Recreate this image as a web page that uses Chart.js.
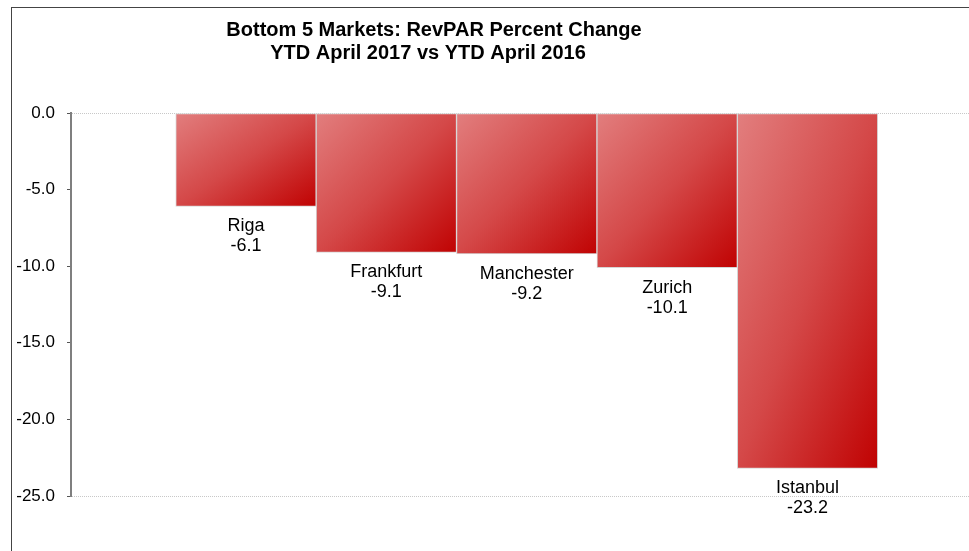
<!DOCTYPE html>
<html>
<head>
<meta charset="utf-8">
<script src="https://cdn.jsdelivr.net/npm/chart.js@4.4.1/dist/chart.umd.min.js"></script>
<style>
  html, body { margin:0; padding:0; background:#fff; overflow:hidden; }
  .frame { position:absolute; left:11px; top:7px; width:2000px; height:2000px; border:1px solid #444; }
  #wrap { position:absolute; left:0; top:0; width:969px; height:551px; }
</style>
</head>
<body>
<div class="frame"></div>
<div id="wrap"><canvas id="c" width="969" height="551"></canvas></div>
<script>
const TITLE = ["Bottom 5 Markets: RevPAR Percent Change", "YTD April 2017 vs YTD April 2016"];
const MARKETS = ["Riga", "Frankfurt", "Manchester", "Zurich", "Istanbul"];
const CHANGE = [-6.1, -9.1, -9.2, -10.1, -23.2];
const Y_MIN = -25, Y_MAX = 0, Y_STEP = 5;

const FONT = "'Liberation Sans', Arial, sans-serif";

// excel-ish diagonal gradient that scales with the bar shape
function barFill(ctx){
  const chart = ctx.chart;
  if(!chart.chartArea) return "#d24040";
  const xs = chart.scales.x, ys = chart.scales.y;
  const i = ctx.dataIndex;
  const half = (xs.getPixelForValue(1) - xs.getPixelForValue(0)) / 2;
  const cx = xs.getPixelForValue(i);
  const top = ys.getPixelForValue(0), bot = ys.getPixelForValue(CHANGE[i]);
  const x0 = cx - half, w = half * 2, h = bot - top;
  const t = 2 * w * h / (w * w + h * h);
  const g = chart.ctx.createLinearGradient(x0, top, x0 + t * h, top + t * w);
  g.addColorStop(0, "#e27e7e");
  g.addColorStop(0.5, "#d44848");
  g.addColorStop(1, "#c00202");
  return g;
}

const titlePlugin = {
  id: "ttl",
  afterDraw(chart){
    const c = chart.ctx;
    c.save();
    c.fillStyle = "#000";
    c.font = "bold 20px " + FONT;
    c.textAlign = "center";
    c.textBaseline = "middle";
    c.fillText(TITLE[0], 434, 30);
    c.fillText(TITLE[1], 428, 53);
    c.restore();
  }
};

const barLabels = {
  id: "barLabels",
  afterDatasetsDraw(chart){
    const c = chart.ctx;
    const meta = chart.getDatasetMeta(0);
    c.save();
    c.fillStyle = "#000";
    c.font = "18px " + FONT;
    c.textAlign = "center";
    c.textBaseline = "middle";
    meta.data.forEach((el, i) => {
      c.fillText(MARKETS[i], el.x, el.y + 20);
      c.fillText(CHANGE[i].toFixed(1), el.x, el.y + 40);
    });
    c.restore();
  }
};

new Chart(document.getElementById("c"), {
  type: "bar",
  data: {
    datasets: [{
      data: CHANGE.map((v, i) => ({ x: i, y: v })),
      backgroundColor: barFill,
      borderColor: "#d6d6d6",
      borderWidth: 1,
      borderSkipped: false,
      categoryPercentage: 1,
      barPercentage: 1
    }]
  },
  options: {
    responsive: false,
    animation: false,
    layout: { padding: { top: 113, bottom: 55, left: 0, right: 0 } },
    plugins: { legend: { display: false }, tooltip: { enabled: false }, title: { display: false } },
    scales: {
      x: { type: "linear", display: false, offset: false, min: -1.246, max: 5.15 },
      y: {
        min: Y_MIN, max: Y_MAX,
        afterFit(s){ s.width = 71; },
        ticks: { stepSize: Y_STEP, color: "#000", padding: 12, font: { family: FONT, size: 17 },
                 callback: v => Number(v).toFixed(1) },
        grid: {
          color: c => (c.tick && (c.tick.value === Y_MIN || c.tick.value === Y_MAX)) ? "#c8c8c8" : "rgba(0,0,0,0)",
          lineWidth: 1, tickLength: 4, tickColor: "#555", tickBorderDash: [], drawTicks: true
        },
        border: { display: true, color: "#7f7f7f", width: 2, dash: [1, 1] }
      }
    }
  },
  plugins: [titlePlugin, barLabels]
});
</script>
</body>
</html>
